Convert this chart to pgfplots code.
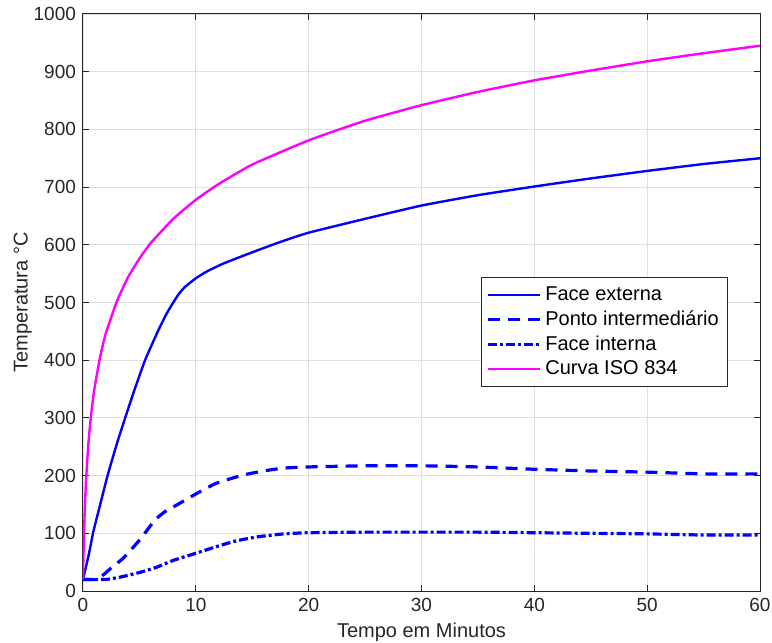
\documentclass[border=0pt]{standalone}
\usepackage{fontspec}
\setmainfont{Liberation Sans}
\usepackage{pgfplots}
\pgfplotsset{compat=1.18}
\definecolor{axgray}{RGB}{38,38,38}
\definecolor{gridgray}{RGB}{223,223,223}
\definecolor{mag}{RGB}{255,0,255}
\definecolor{blu}{RGB}{0,0,255}
\begin{document}
\begin{tikzpicture}
\begin{axis}[
  scale only axis,
  width=338.5pt, height=288.5pt,
  xmin=0, xmax=60, ymin=0, ymax=1000,
  xtick={0,10,...,60}, ytick={0,100,...,1000},
  grid=major,
  major grid style={gridgray, line width=0.4pt},
  axis line style={axgray, line width=0.5pt},
  tick style={axgray, line width=0.5pt},
  tick align=inside,
  major tick length=3pt,
  tick label style={font=\fontsize{9.5}{11}\selectfont, text=axgray},
  /pgf/number format/assume math mode=true,
  /pgf/number format/1000 sep={},
  label style={font=\fontsize{10}{12}\selectfont, text=axgray},
  xlabel={Tempo em Minutos},
  ylabel={Temperatura °C},
  xlabel style={at={(axis description cs:0.5,-0.071)}, anchor=center},
  ylabel style={at={(axis description cs:-0.089,0.5)}, anchor=center},
  legend style={at={(0.953,0.544)}, anchor=north east, draw=axgray, line width=0.4pt,
    font=\fontsize{10}{12}\selectfont, row sep=-0.3pt, inner sep=2.5pt},
  legend cell align=left,
  legend image code/.code={\draw[#1] (0pt,0pt) -- (26pt,0pt);},
]
\addplot[blu, line width=1.2pt, smooth, tension=0.3] coordinates {
(0,20)(0.5,62)(0.92,103)(1.5,148)(2.19,201)(3,255)(3.57,290)(4.5,345)(5.5,400)(6.68,452)(7.42,481)(8,500)(8.5,515)(9.04,527)(10,542)(11,554)(12.5,568)(15,587)(17.5,605)(20,621)(25,645)(30,668)(35,686)(40,701)(45,715)(50,728)(55,740)(60,750)
};
\addlegendentry{Face externa}
\addplot[blu, line width=1.6pt, smooth, tension=0.3, dash pattern=on 6pt off 4pt] coordinates {
(0,20)(1,20)(1.8,28)(2.5,40)(3.57,57)(5,88)(6.38,123)(7.3,138)(8.3,149)(10.08,169)(11.85,187)(14.2,201)(16,208)(17.76,213)(20,215)(25,217)(30,217)(35,215)(40,211)(45,208)(50,206)(55,203)(60,203)
};
\addlegendentry{Ponto intermediário}
\addplot[blu, line width=1.6pt, smooth, tension=0.3, dash pattern=on 4.5pt off 1.5pt on 1.5pt off 1.5pt] coordinates {
(0,20)(2,20)(3.28,24)(5,32)(6.5,41)(8,53)(10.1,66)(12,78)(13.6,87)(15.5,94)(17.8,99)(20,101)(25,102)(30,102)(35,102)(40,101)(45,100)(50,99)(55,97)(60,97)
};
\addlegendentry{Face interna}
\addplot[mag, line width=1.2pt, smooth, tension=0.3] coordinates {
(0,20)(0.02,42)(0.05,70)(0.1,108)(0.25,185)(0.5,261)(0.75,311)(1,349)(1.5,404)(2,445)(3,502)(4,544)(5,576)(6,603)(8,645)(10,678)(12,705)(15,739)(20,781)(25,815)(30,842)(35,865)(40,885)(45,902)(50,918)(55,932)(60,945)
};
\addlegendentry{Curva ISO 834}
\end{axis}
\pgfresetboundingbox
\path ([shift={(-41.5pt,-26pt)}]current axis.south west) rectangle ([shift={(6pt,7pt)}]current axis.north east);
\end{tikzpicture}
\end{document}
